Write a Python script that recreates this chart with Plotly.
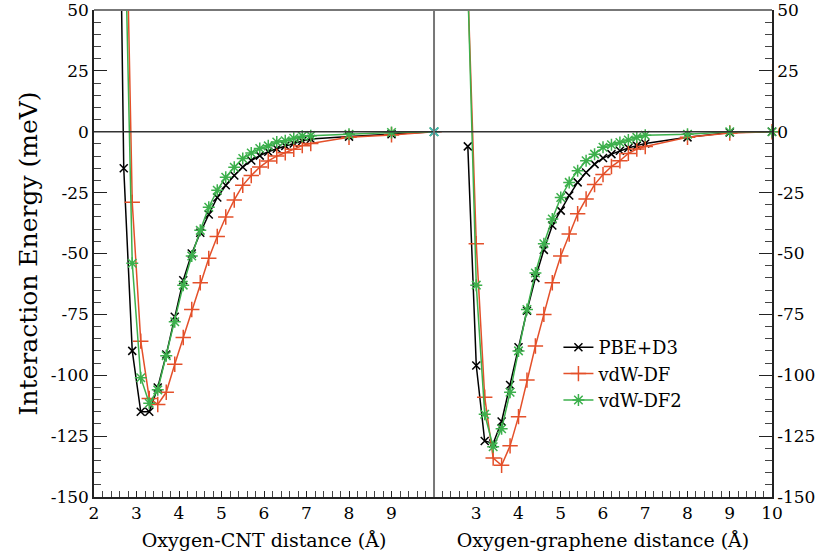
import plotly.graph_objects as go

# ---------------- data ----------------
# Left panel: Oxygen-CNT
cnt_x_pbe = [2.5, 2.7, 2.9, 3.1, 3.3, 3.5, 3.7, 3.9, 4.1, 4.3, 4.5, 4.7, 4.9, 5.1, 5.3, 5.5, 5.7, 5.9, 6.1, 6.3, 6.5, 6.7, 6.9, 7.1, 8, 9, 10]
cnt_pbe = [245, -15, -90, -115, -115, -105, -91.5, -76, -61, -50, -41.5, -34, -27, -22, -18, -14.5, -11.8, -9.8, -8.2, -7, -5.8, -4.8, -3.8, -3, -2, -1, 0]

cnt_x = [2.7, 2.9, 3.1, 3.3, 3.5, 3.7, 3.9, 4.1, 4.3, 4.5, 4.7, 4.9, 5.1, 5.3, 5.5, 5.7, 5.9, 6.1, 6.3, 6.5, 6.7, 6.9, 7.1, 8, 9, 10]
cnt_vdwdf = [146, -29, -86, -109.5, -112, -107, -95.5, -84.5, -73, -62, -52, -43, -35, -28, -22, -18, -14.5, -12, -10, -8.6, -7.2, -5.7, -4.8, -2.3, -1.3, 0]
cnt_vdwdf2 = [106, -54, -101, -111.5, -106, -92, -78, -63, -51, -40.5, -31, -24, -18.7, -14.6, -11, -8.7, -6.9, -5.8, -4.2, -3.7, -2.7, -1.8, -1.6, -1, -0.3, 0]

# Right panel: Oxygen-graphene
gr_x_pbe = [2.8, 3.0, 3.2, 3.4, 3.6, 3.8, 4.0, 4.2, 4.4, 4.6, 4.8, 5.0, 5.2, 5.4, 5.6, 5.8, 6.0, 6.2, 6.4, 6.6, 6.8, 7.0, 8, 9, 10]
gr_pbe = [-6, -96, -127, -128, -119, -104, -88.5, -73.5, -60, -48.5, -38.5, -32.4, -26.2, -20.8, -16.7, -13.3, -10.8, -9.2, -7.8, -6.7, -5.7, -4.8, -2.3, -0.3, 0]

gr_x = [2.8, 3.0, 3.2, 3.4, 3.6, 3.8, 4.0, 4.2, 4.4, 4.6, 4.8, 5.0, 5.2, 5.4, 5.6, 5.8, 6.0, 6.2, 6.4, 6.6, 6.8, 7.0, 8, 9, 10]
gr_vdwdf = [60, -46, -109, -134, -137, -129, -117, -102, -88, -75, -62, -51, -42, -33.7, -27.6, -21.7, -17.6, -14.3, -11.9, -8.9, -7.1, -6.1, -2.3, -0.5, 0]
gr_vdwdf2 = [60, -63, -116, -129.4, -122, -107, -90, -73, -58, -46, -35.8, -27, -20.8, -16, -11.9, -9.2, -6.4, -5.3, -4.4, -3.4, -2.3, -1.4, -1, 0, 0]

end_x = [10]
end_y = [0]

series_names = ["PBE+D3", "vdW-DF", "vdW-DF2"]
left_ticks = [2, 3, 4, 5, 6, 7, 8, 9]
right_ticks = [3, 4, 5, 6, 7, 8, 9, 10]
y_ticks = [-150, -125, -100, -75, -50, -25, 0, 25, 50]
y_ticktext = [str(v) for v in y_ticks]

# ---------------- style ----------------
BLACK = "#000000"
RED = "#e4502a"
GREEN = "#3cb04c"
CYAN = "#3fbfbf"
FONT = "DejaVu Serif"

styles = [
    dict(color=BLACK, symbol="x-thin-open", size=8),
    dict(color=RED, symbol="cross-thin-open", size=11),
    dict(color=GREEN, symbol="asterisk-open", size=10),
]

fig = go.Figure()

left_sets = [(cnt_x_pbe, cnt_pbe), (cnt_x, cnt_vdwdf), (cnt_x, cnt_vdwdf2)]
right_sets = [(gr_x_pbe, gr_pbe), (gr_x, gr_vdwdf), (gr_x, gr_vdwdf2)]

for i, (xs, ys) in enumerate(left_sets):
    st = styles[i]
    fig.add_trace(go.Scatter(
        x=xs, y=ys, mode="lines+markers", name=series_names[i],
        line=dict(color=st["color"], width=1.5),
        marker=dict(symbol=st["symbol"], size=st["size"], color=st["color"],
                    line=dict(color=st["color"], width=1.5)),
        xaxis="x", yaxis="y", cliponaxis=False, showlegend=True))

for i, (xs, ys) in enumerate(right_sets):
    st = styles[i]
    fig.add_trace(go.Scatter(
        x=xs, y=ys, mode="lines+markers", name=series_names[i],
        line=dict(color=st["color"], width=1.5),
        marker=dict(symbol=st["symbol"], size=st["size"], color=st["color"],
                    line=dict(color=st["color"], width=1.5)),
        xaxis="x2", yaxis="y2", cliponaxis=False, showlegend=False))

fig.add_trace(go.Scatter(
    x=end_x, y=end_y, mode="markers", showlegend=False,
    marker=dict(symbol="asterisk-open", size=10, color=CYAN, line=dict(color=CYAN, width=1.5)),
    xaxis="x", yaxis="y", cliponaxis=False))

split = 0.5015
tickfont = dict(family=FONT, size=17, color="black")

xcommon = dict(range=[2, 10], showgrid=False, zeroline=False, showline=True, automargin=False,
               linecolor="#222", linewidth=1.5, ticks="inside", ticklen=6,
               tickwidth=1, tickcolor="#222", tickfont=tickfont, ticklabeloverflow="allow",
               minor=dict(dtick=0.2, ticks="inside", ticklen=6, tickcolor="#444", tickwidth=1))

ycommon = dict(domain=[0, 1], range=[-150, 50], tickvals=y_ticks, ticktext=y_ticktext,
               showgrid=False, zeroline=False, showline=True, linecolor="#222", linewidth=1.5,
               ticks="inside", ticklen=13, tickwidth=1, tickcolor="#222", tickfont=tickfont,
               ticklabeloverflow="allow", automargin=False,
               minor=dict(dtick=5, ticks="inside", ticklen=7, tickcolor="#444", tickwidth=1))

fig.update_layout(
    width=823, height=558,
    margin=dict(l=94, r=51, t=10, b=61, autoexpand=False),
    plot_bgcolor="white", paper_bgcolor="white",
    font=dict(family=FONT, color="black"),
    xaxis=dict(domain=[0, split], anchor="y", tickvals=left_ticks,
               title=dict(text="Oxygen-CNT distance (Å)", font=dict(family=FONT, size=19), standoff=12),
               **xcommon),
    xaxis2=dict(domain=[split, 1], anchor="y2", tickvals=right_ticks,
                title=dict(text="Oxygen-graphene distance (Å)", font=dict(family=FONT, size=19), standoff=12),
                **xcommon),
    yaxis=dict(anchor="x",
               title=dict(text="Interaction Energy (meV)", font=dict(family=FONT, size=25), standoff=6),
               **ycommon),
    yaxis2=dict(anchor="x2", side="right", **ycommon),
    legend=dict(x=0.685, y=0.345, xanchor="left", yanchor="top",
                bgcolor="rgba(0,0,0,0)", font=dict(family=FONT, size=18),
                itemwidth=30, tracegroupgap=0),
    shapes=[
        dict(type="line", xref="paper", yref="y", x0=0, x1=1, y0=0, y1=0,
             line=dict(color="#333", width=1.5)),
        dict(type="line", xref="paper", yref="paper", x0=0, x1=1, y0=1, y1=1,
             line=dict(color="#777", width=2)),
        dict(type="line", xref="paper", yref="paper", x0=split, x1=split, y0=0, y1=1,
             line=dict(color="#777", width=2)),
    ],
)

fig.write_html("out.html")
